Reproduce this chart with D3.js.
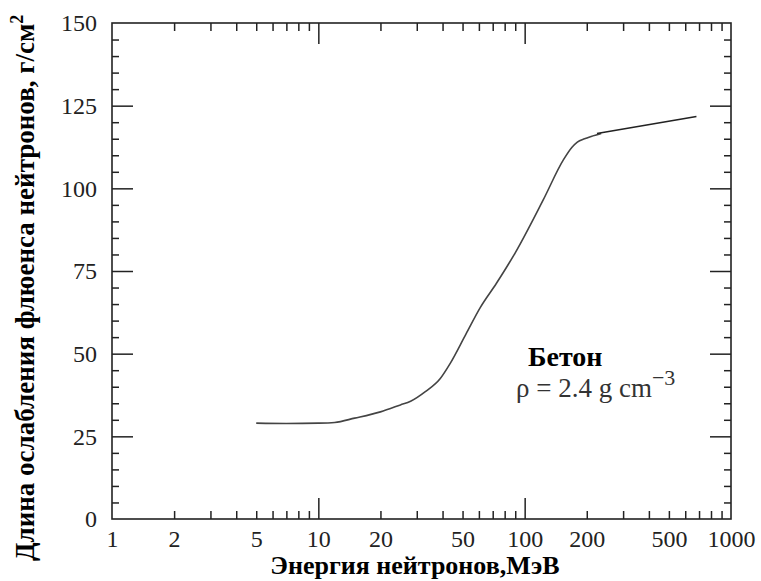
<!DOCTYPE html>
<html>
<head>
<meta charset="utf-8">
<script src="https://cdn.jsdelivr.net/npm/d3@7"></script>
<style>
  body { margin: 0; background: #fff; }
  svg { display: block; }
</style>
</head>
<body>
<div id="chart"></div>
<script>
// Attenuation length of neutron fluence in concrete vs neutron energy

var svgWidth = 761, svgHeight = 581;
var margin = {top: 23, right: 30, bottom: 62, left: 112};
var width = svgWidth - margin.left - margin.right;
var height = svgHeight - margin.top - margin.bottom;
var serif = "'Liberation Serif', 'Times New Roman', serif";

// data
var curveEnergy = [5, 7, 10, 12, 15, 20, 25, 28, 33, 39, 43.5, 52, 61, 73, 90, 123, 154, 170, 180, 195, 210, 235];
var curveLength = [29, 28.9, 29, 29.2, 30.5, 32.4, 34.5, 35.6, 38.5, 42.5, 47, 56, 64, 71.3, 80.5, 96.5, 108.6, 112.5, 114, 115, 115.7, 116.6];
var tailEnergy = [224, 680];
var tailLength = [116.6, 121.7];

var xTickLabels = [1, 2, 5, 10, 20, 50, 100, 200, 500, 1000];
var xMajor = [10, 100];
var xMinor = [2, 3, 4, 5, 6, 7, 8, 9, 20, 30, 40, 50, 60, 70, 80, 90, 200, 300, 400, 500, 600, 700, 800, 900];
var yTickLabels = [0, 25, 50, 75, 100, 125, 150];
var yMajor = [25, 50, 75, 100, 125];
var yMinor = [5, 10, 15, 20, 30, 35, 40, 45, 55, 60, 65, 70, 80, 85, 90, 95, 105, 110, 115, 120, 130, 135, 140, 145];

var xScale = d3.scaleLog().domain([1, 1000]).range([0, width]);
var yScale = d3.scaleLinear().domain([0, 150]).range([height, 0]);

var svg = d3.select("#chart").append("svg")
    .attr("width", svgWidth)
    .attr("height", svgHeight)
  .append("g")
    .attr("transform", "translate(" + margin.left + "," + margin.top + ")");

// inward tick marks on all four sides
function ticks(axisFn, values, size, transform) {
  var g = svg.append("g")
      .attr("transform", transform)
      .call(axisFn.tickValues(values).tickSize(size).tickFormat(""));
  g.select(".domain").remove();
  g.selectAll("line").attr("stroke", "#222").attr("stroke-width", 1.5);
}
ticks(d3.axisBottom(xScale), xMinor, -8, "translate(0," + height + ")");
ticks(d3.axisBottom(xScale), xMajor, -21, "translate(0," + height + ")");
ticks(d3.axisTop(xScale), xMinor, -8, "translate(0,0)");
ticks(d3.axisTop(xScale), xMajor, -21, "translate(0,0)");
ticks(d3.axisLeft(yScale), yMinor, -7, "translate(0,0)");
ticks(d3.axisLeft(yScale), yMajor, -21, "translate(0,0)");
ticks(d3.axisRight(yScale), yMinor, -7, "translate(" + width + ",0)");
ticks(d3.axisRight(yScale), yMajor, -21, "translate(" + width + ",0)");

// frame
svg.append("rect")
    .attr("width", width)
    .attr("height", height)
    .attr("fill", "none")
    .attr("stroke", "#222")
    .attr("stroke-width", 1.6);

// tick labels
var xLab = svg.append("g")
    .attr("transform", "translate(0," + height + ")")
    .call(d3.axisBottom(xScale).tickValues(xTickLabels).tickSize(0).tickPadding(11)
      .tickFormat(d3.format("d")));
xLab.select(".domain").remove();
xLab.selectAll("text")
    .style("font-family", serif)
    .style("font-size", "24px")
    .attr("fill", "#222");

var yLab = svg.append("g")
    .call(d3.axisLeft(yScale).tickValues(yTickLabels).tickSize(0).tickPadding(15));
yLab.select(".domain").remove();
yLab.selectAll("text")
    .style("font-family", serif)
    .style("font-size", "24px")
    .attr("fill", "#222");

// curves
var line = d3.line()
    .x(function(d) { return xScale(d[0]); })
    .y(function(d) { return yScale(d[1]); })
    .curve(d3.curveMonotoneX);

svg.append("path")
    .datum(d3.zip(curveEnergy, curveLength))
    .attr("d", line)
    .attr("fill", "none")
    .attr("stroke", "#444")
    .attr("stroke-width", 1.6);

svg.append("path")
    .datum(d3.zip(tailEnergy, tailLength))
    .attr("d", line)
    .attr("fill", "none")
    .attr("stroke", "#222")
    .attr("stroke-width", 1.6);

// annotation
svg.append("text")
    .attr("x", 528 - margin.left)
    .attr("y", 366 - margin.top)
    .style("font-family", serif)
    .style("font-weight", "bold")
    .style("font-size", "28px")
    .text("Бетон");

var rho = svg.append("text")
    .attr("x", 516 - margin.left)
    .attr("y", 397 - margin.top)
    .style("font-family", serif)
    .style("font-size", "27px")
    .attr("fill", "#333");
rho.append("tspan").text("ρ = 2.4 g cm");
rho.append("tspan").attr("dy", -12).style("font-size", "22px").text("−3");

// axis titles
svg.append("text")
    .attr("x", 415 - margin.left)
    .attr("y", 574 - margin.top)
    .attr("text-anchor", "middle")
    .style("font-family", serif)
    .style("font-weight", "bold")
    .style("font-size", "26px")
    .text("Энергия нейтронов,МэВ");

var yTitle = svg.append("text")
    .attr("transform", "translate(" + (34 - margin.left) + "," + (561 - margin.top) + ") rotate(-90)")
    .style("font-family", serif)
    .style("font-weight", "bold")
    .style("font-size", "27px");
yTitle.append("tspan").text("Длина ослабления флюенса нейтронов, г/см");
yTitle.append("tspan").attr("dy", -11).style("font-size", "18px").text("2");
</script>
</body>
</html>
